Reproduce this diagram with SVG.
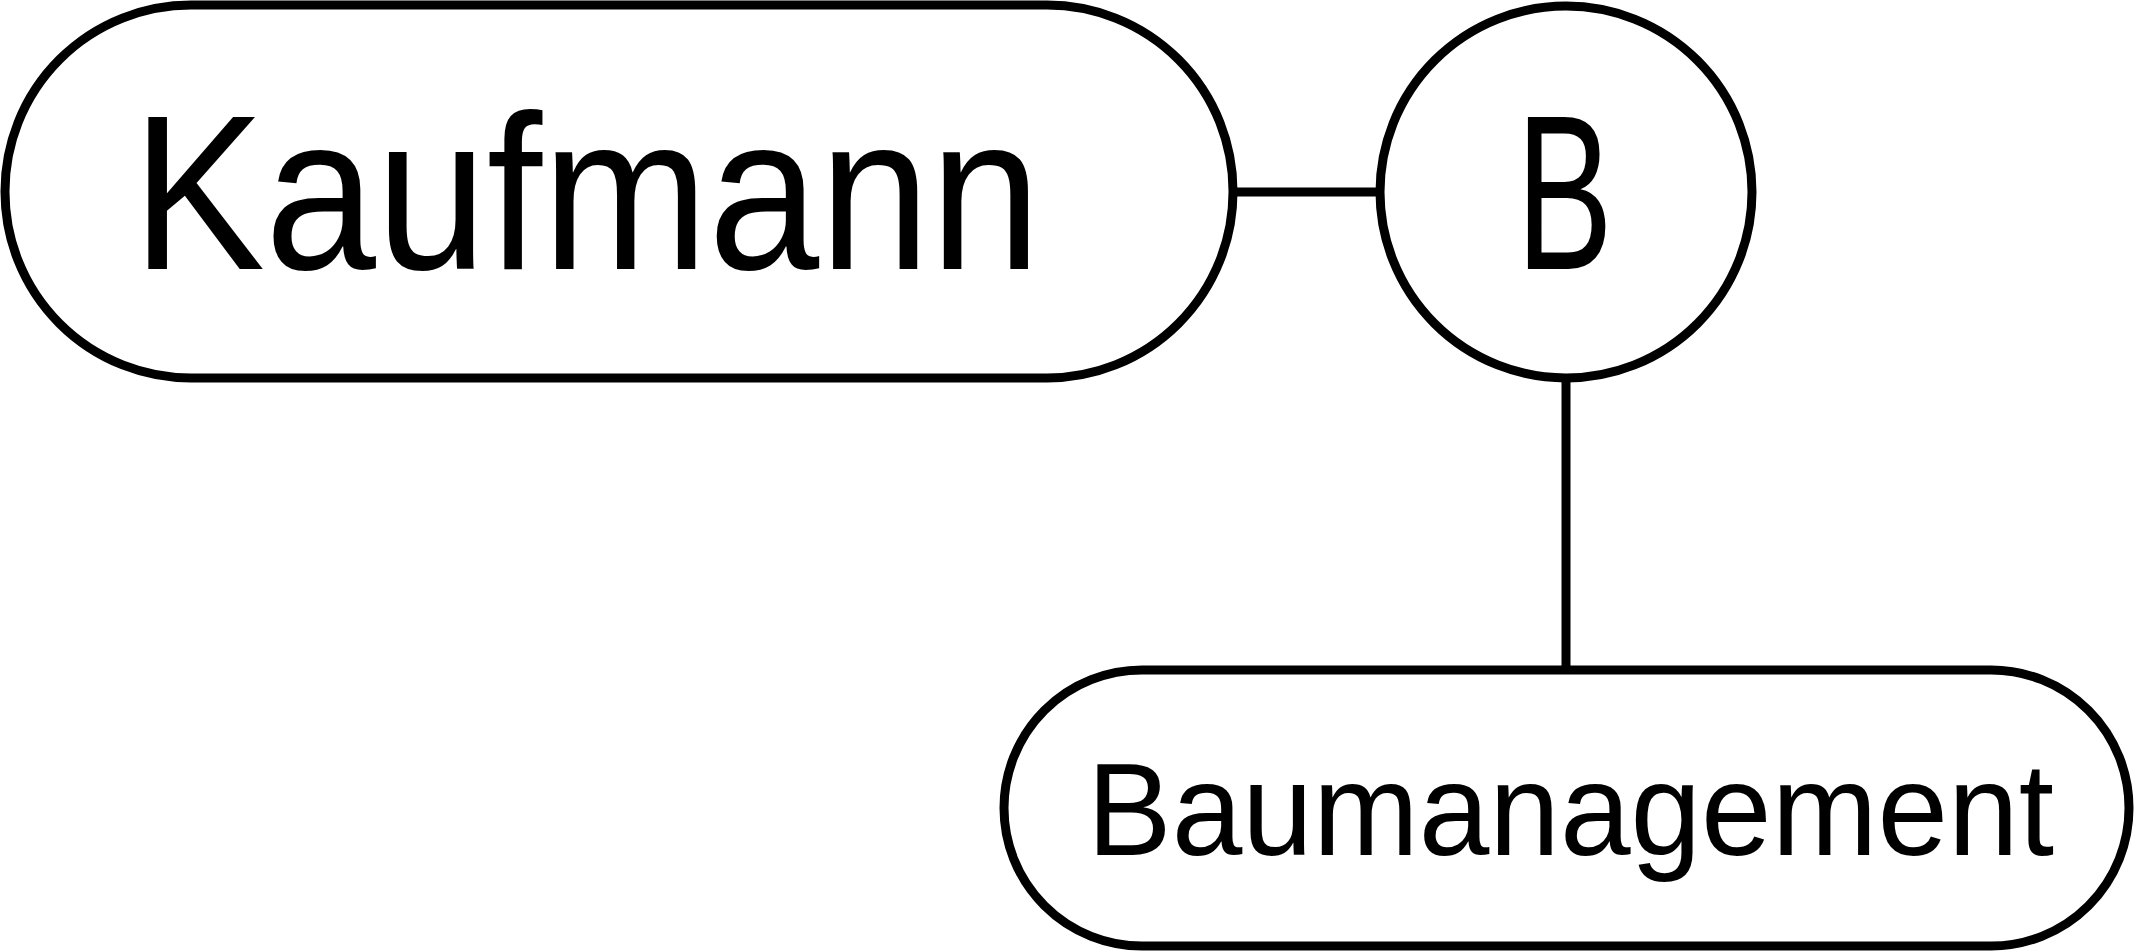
<svg xmlns="http://www.w3.org/2000/svg" width="2134" height="951" viewBox="0 0 2134 951">
<style>
.n{fill:#fff;stroke:#000;stroke-width:9}
.e{stroke:#000;stroke-width:9;fill:none}
text{font-family:"Liberation Sans",Arial,sans-serif;fill:#000}
</style>
<rect width="2134" height="951" fill="#fff"/>
<g id="edges">
<line class="e" x1="1233" y1="192" x2="1380" y2="192"/>
<line class="e" x1="1566" y1="378" x2="1566" y2="670"/>
</g>
<g id="kaufmann">
<rect class="n" x="5" y="5" width="1228" height="373" rx="186" ry="186"/>
<text x="132" y="269" font-size="221" textLength="909" lengthAdjust="spacingAndGlyphs">Kaufmann</text>
</g>
<g id="b">
<circle class="n" cx="1566" cy="192" r="186"/>
<text x="1516" y="269" font-size="221" textLength="97" lengthAdjust="spacingAndGlyphs">B</text>
</g>
<g id="baumanagement">
<rect class="n" x="1004" y="670" width="1125" height="276" rx="138" ry="138"/>
<text x="1087" y="855" font-size="131" textLength="967" lengthAdjust="spacingAndGlyphs">Baumanagement</text>
</g>
</svg>
